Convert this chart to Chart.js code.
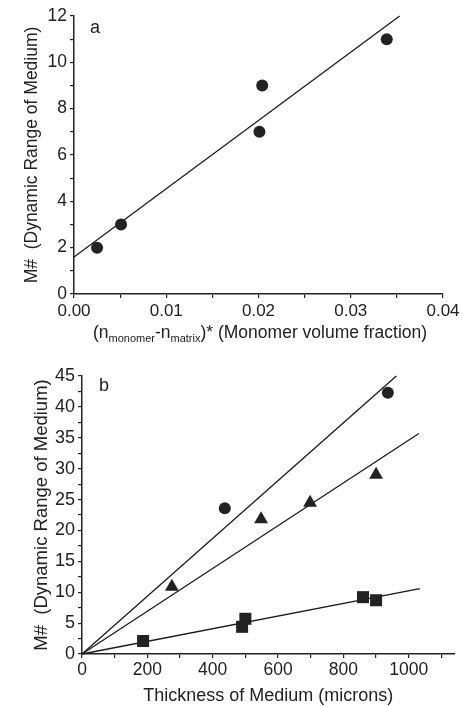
<!DOCTYPE html>
<html>
<head>
<meta charset="utf-8">
<script src="https://cdn.jsdelivr.net/npm/chart.js"></script>
<style>
  body { margin: 0; background: #ffffff; }
  #wrap { position: relative; width: 463px; height: 707px; font-family: "Liberation Sans", Arial, sans-serif; color: #222222; }
  canvas { position: absolute; left: 0; }
  .lbl { position: absolute; font-size: 18px; line-height: 1; }
  .xt { position: absolute; white-space: nowrap; font-size: 17.5px; transform: translate(-50%, -50%); }
  .xt sub { font-size: 11px; vertical-align: -4px; }
</style>
</head>
<body>
<div id="wrap">
  <canvas id="chartA" width="463" height="355" style="top:0"></canvas>
  <canvas id="chartB" width="463" height="352" style="top:355px"></canvas>
  <div class="lbl" style="left:90px;top:18px">a</div>
  <div class="lbl" style="left:99px;top:376px">b</div>
  <div class="xt" style="left:260px;top:333px">(n<sub>monomer</sub>-n<sub>matrix</sub>)* (Monomer volume fraction)</div>
</div>
<script>
// panel a: M# vs index contrast * volume fraction
const aX = [0.0025, 0.0051, 0.0201, 0.0204, 0.0339];
const aY = [2.0, 3.0, 7.0, 9.0, 11.0];
const aFitX = [0, 0.0353];
const aFitY = [1.6, 12.0];

// panel b: M# vs thickness, three materials
const circX = [437, 936];
const circY = [23.6, 42.3];
const triX = [275, 548, 698, 900];
const triY = [10.9, 21.8, 24.5, 29.0];
const sqX = [187, 490, 500, 860, 900];
const sqY = [2.1, 4.4, 5.7, 9.2, 8.7];
const fit1X = [0, 962], fit1Y = [0, 45];
const fit2X = [0, 1031], fit2Y = [0, 35.7];
const fit3X = [0, 1034], fit3Y = [0, 10.6];

const INK = '#222222';
const FONT = "'Liberation Sans', Arial, sans-serif";

function pts(xs, ys) { return xs.map((x, i) => ({ x: x, y: ys[i] })); }

function markers(xs, ys, style, r) {
  return {
    type: 'scatter', data: pts(xs, ys), pointStyle: style, pointRadius: r,
    backgroundColor: INK, borderColor: INK, borderWidth: 0, clip: false
  };
}
function fitLine(xs, ys) {
  return {
    type: 'line', data: pts(xs, ys), borderColor: '#1a1a1a', borderWidth: 1.3,
    pointRadius: 0, fill: false, clip: false
  };
}

function axis(o) {
  return {
    type: 'linear', min: o.min, max: o.max,
    border: { display: true, color: INK, width: 1.5 },
    grid: { drawOnChartArea: false, drawTicks: true, tickLength: 4, color: INK, lineWidth: 1.2 },
    ticks: {
      stepSize: o.step, includeBounds: false, autoSkip: false, maxRotation: 0,
      color: INK, padding: o.pad, font: { family: FONT, size: o.size },
      callback: o.cb
    },
    title: o.title ? {
      display: true, text: o.title, color: INK,
      font: { family: FONT, size: o.tsize }, padding: { top: o.tpad, bottom: 0 }
    } : { display: false },
    afterFit: o.fit
  };
}

Chart.defaults.animation = false;

new Chart(document.getElementById('chartA'), {
  type: 'scatter',
  data: { datasets: [markers(aX, aY, 'circle', 6), fitLine(aFitX, aFitY)] },
  options: {
    responsive: false, devicePixelRatio: 1,
    layout: { padding: { left: 0, right: 20, top: 16, bottom: 0 } },
    plugins: { legend: { display: false }, tooltip: { enabled: false } },
    scales: {
      x: axis({ min: 0, max: 0.04, step: 0.005, pad: 3, size: 17,
        cb: v => (Math.round(v * 1000) % 10 === 0 ? v.toFixed(2) : ''),
        fit: s => { s.height = 61; s.paddingLeft = 0; s.paddingRight = 0; } }),
      y: axis({ min: 0, max: 12, step: 1, pad: 3, size: 17.5,
        cb: v => (v % 2 === 0 ? v : ''),
        title: 'M#  (Dynamic Range of Medium)', tsize: 17.5, tpad: 22,
        fit: s => { s.width = 74; s.paddingTop = 0; s.paddingBottom = 0; } })
    }
  }
});

new Chart(document.getElementById('chartB'), {
  type: 'scatter',
  data: {
    datasets: [
      markers(circX, circY, 'circle', 6),
      markers(triX, triY, 'triangle', 8),
      markers(sqX, sqY, 'rect', 8.5),
      fitLine(fit1X, fit1Y), fitLine(fit2X, fit2Y), fitLine(fit3X, fit3Y)
    ]
  },
  options: {
    responsive: false, devicePixelRatio: 1,
    layout: { padding: { left: 0, right: 8, top: 21, bottom: 0 } },
    plugins: { legend: { display: false }, tooltip: { enabled: false } },
    scales: {
      x: axis({ min: 0, max: 1140, step: 100, pad: 2, size: 17.5,
        cb: v => (v % 200 === 0 ? v : ''),
        title: 'Thickness of Medium (microns)', tsize: 18, tpad: 4,
        fit: s => { s.height = 53; s.paddingLeft = 0; s.paddingRight = 0; } }),
      y: axis({ min: 0, max: 45, step: 2.5, pad: 3, size: 18,
        cb: v => (v % 5 === 0 ? v : ''),
        title: 'M#  (Dynamic Range of Medium)', tsize: 18.5, tpad: 31,
        fit: s => { s.width = 82; s.paddingTop = 0; s.paddingBottom = 0; } })
    }
  }
});
</script>
</body>
</html>
